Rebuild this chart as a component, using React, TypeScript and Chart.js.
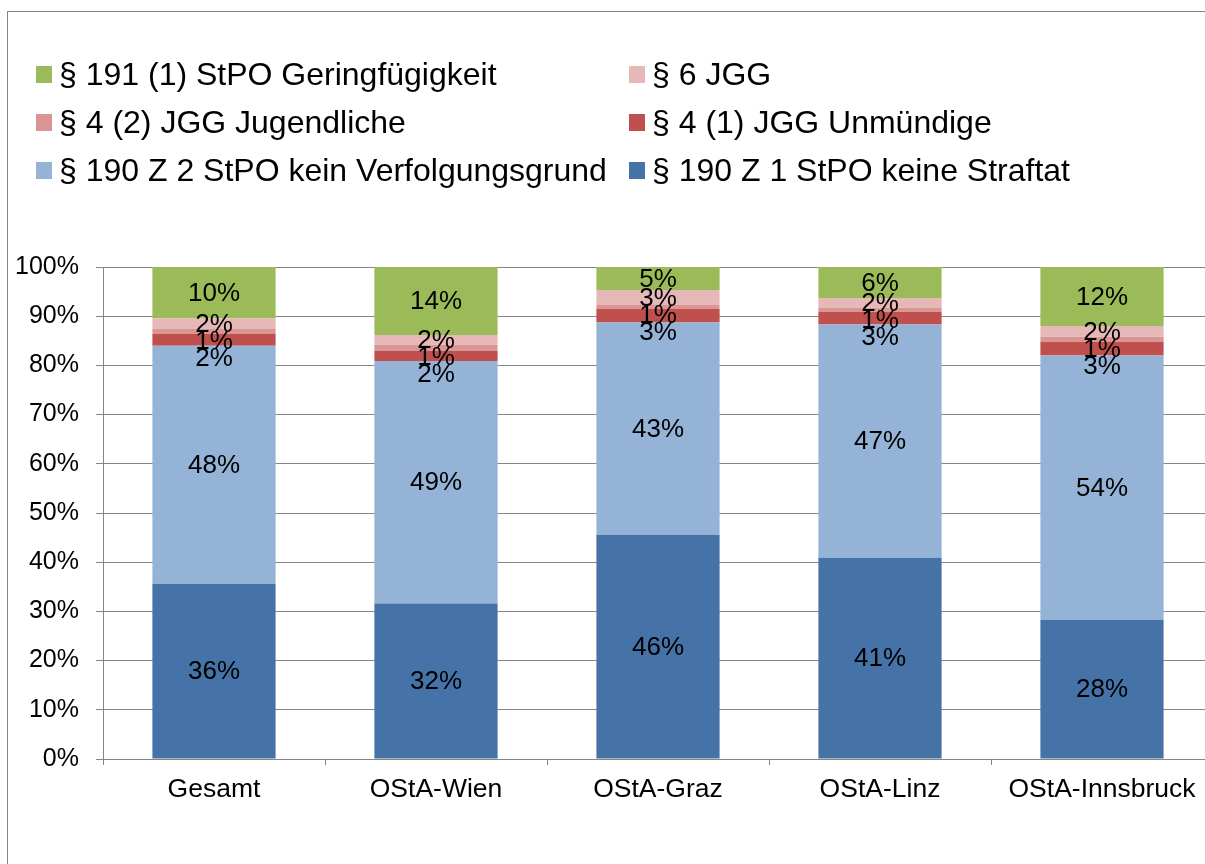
import React, { useEffect, useRef } from "react";
import { Chart, registerables } from "chart.js";

Chart.register(...registerables);

const FONT = "'Liberation Sans', Arial, Helvetica, sans-serif";

const categories = ["Gesamt", "OStA-Wien", "OStA-Graz", "OStA-Linz", "OStA-Innsbruck"];

// Series values (percent of each bar), bottom to top
const keineStraftat = [35.6, 31.6, 45.6, 40.9, 28.3];
const keinVerfolgungsgrund = [48.4, 49.3, 43.1, 47.4, 53.7];
const unmuendige = [2.4, 2.1, 2.8, 2.6, 2.8];
const jugendliche = [1.0, 1.2, 0.8, 0.8, 1.0];
const jgg6 = [2.2, 2.0, 3.0, 2.0, 2.2];
const geringfuegigkeit = [10.4, 13.8, 4.7, 6.3, 12.0];

const seriesNames = [
  "§ 190 Z 1 StPO keine Straftat",
  "§ 190 Z 2 StPO kein Verfolgungsgrund",
  "§ 4 (1) JGG Unmündige",
  "§ 4 (2) JGG Jugendliche",
  "§ 6 JGG",
  "§ 191 (1) StPO Geringfügigkeit",
];
const seriesValues = [keineStraftat, keinVerfolgungsgrund, unmuendige, jugendliche, jgg6, geringfuegigkeit];
const seriesColors = ["#4572A7", "#95B3D7", "#C0504D", "#D99694", "#E6B9B8", "#9BBB59"];

const yMin = 0;
const yMax = 100;
const yStep = 10;

const GRID = "#868686";

const segLabels = {
  id: "segLabels",
  afterDatasetsDraw(chart: any) {
    const ctx = chart.ctx;
    ctx.save();
    ctx.font = `26px ${FONT}`;
    ctx.fillStyle = "#000";
    ctx.textAlign = "center";
    ctx.textBaseline = "middle";
    const GAP = 17;
    const n = chart.data.labels.length;
    for (let i = 0; i < n; i++) {
      const items: { x: number; y: number; t: string }[] = [];
      chart.data.datasets.forEach((ds: any, di: number) => {
        const el = chart.getDatasetMeta(di).data[i];
        items.push({ x: el.x, y: (el.y + el.base) / 2, t: Math.round(ds.data[i]) + "%" });
      });
      items.sort((a, b) => a.y - b.y);
      for (let k = 1; k < items.length; k++) {
        if (items[k].y < items[k - 1].y + GAP) items[k].y = items[k - 1].y + GAP;
      }
      items.forEach((it) => ctx.fillText(it.t, it.x, it.y + 1));
    }
    ctx.restore();
  },
};

export default function App() {
  const ref = useRef<HTMLCanvasElement | null>(null);

  useEffect(() => {
    if (!ref.current) return;
    const chart = new Chart(ref.current, {
      type: "bar",
      data: {
        labels: categories,
        datasets: seriesNames.map((name, i) => ({
          label: name,
          data: seriesValues[i],
          backgroundColor: seriesColors[i],
          borderWidth: 0,
          barPercentage: 0.555,
          categoryPercentage: 1,
        })),
      },
      options: {
        responsive: false,
        animation: false,
        devicePixelRatio: 1,
        layout: { padding: { top: 267, right: 17, left: 0, bottom: 0 } },
        plugins: { legend: { display: false }, tooltip: { enabled: false } },
        scales: {
          x: {
            stacked: true,
            afterFit: (s: any) => {
              s.height = 105;
            },
            grid: {
              offset: true,
              drawOnChartArea: false,
              tickLength: 6,
              color: GRID,
            },
            border: { color: GRID, width: 1 },
            ticks: {
              color: "#000",
              font: { family: FONT, size: 26.5 },
              padding: 9,
            },
          },
          y: {
            stacked: true,
            min: yMin,
            max: yMax,
            afterFit: (s: any) => {
              s.width = 103;
            },
            grid: { color: GRID, lineWidth: 1, tickLength: 7 },
            border: { color: GRID, width: 1 },
            ticks: {
              stepSize: yStep,
              color: "#000",
              font: { family: FONT, size: 25 },
              padding: 17,
              callback: (v: any) => v + "%",
            },
          },
        },
      },
      plugins: [segLabels],
    });
    return () => chart.destroy();
  }, []);

  const legendOrder = [5, 4, 3, 2, 1, 0];
  const colX = [36, 629];
  const rowY = [74, 122, 170];

  return (
    <div
      style={{
        position: "fixed",
        left: 0,
        top: 0,
        width: 1205,
        height: 864,
        overflow: "hidden",
        background: "#fff",
        fontFamily: FONT,
      }}
    >
      <div
        style={{
          position: "absolute",
          left: 7,
          top: 11,
          width: 1400,
          height: 1000,
          border: `1px solid ${GRID}`,
        }}
      />
      <canvas ref={ref} width={1230} height={864} style={{ position: "absolute", left: 0, top: 0 }} />
      {legendOrder.map((si, idx) => {
        const col = idx % 2;
        const row = Math.floor(idx / 2);
        return (
          <div
            key={si}
            style={{
              position: "absolute",
              left: colX[col],
              top: rowY[row] - 20,
              height: 40,
              display: "flex",
              alignItems: "center",
              whiteSpace: "nowrap",
              fontSize: 32,
              color: "#000",
            }}
          >
            <span
              style={{
                display: "inline-block",
                width: 16,
                height: 17,
                background: seriesColors[si],
                marginRight: 7,
              }}
            />
            <span>{seriesNames[si]}</span>
          </div>
        );
      })}
    </div>
  );
}
